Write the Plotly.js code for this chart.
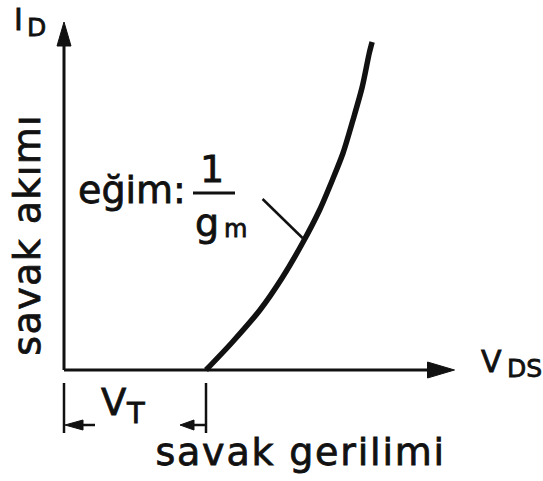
<!DOCTYPE html>
<html>
<head>
<meta charset="utf-8">
<script src="https://cdn.plot.ly/plotly-3.0.1.min.js"></script>
<style>
  html, body { margin: 0; padding: 0; background: #fff; }
  #chart { width: 543px; height: 481px; }
  /* heavier lettering */
  #chart .annotation-text { stroke: #111; stroke-width: 0.8px; }
</style>
</head>
<body>
<div id="chart"></div>
<script>
// Drain current against drain voltage, arbitrary units (threshold V_T = 1)
const vds = [1.00, 1.18, 1.38, 1.54, 1.68, 1.80, 1.89, 1.965, 2.035, 2.10, 2.15, 2.17];
const id  = [0.00, 0.27, 0.60, 0.93, 1.27, 1.60, 1.90, 2.17, 2.50, 2.83, 3.17, 3.28];
const vT = 1.0;

// Axis extents (arrow tips) and the point the slope label points at
const vdsAxisEnd = 2.75;
const idAxisEnd = 3.48;
const slopeMark = [1.68, 1.32];

// Label texts
const yTitle = 'savak akımı';
const xTitle = 'savak gerilimi';
const slopeText = 'eğim:';
const slopeNum = '1';
const slopeDen = 'g';
const slopeDenSub = 'm';
const idSym = ['I', 'D'];
const vdsSym = ['V', 'DS'];
const vtSym = ['V', 'T'];

const INK = '#111';
const FONT = 'DejaVu Sans';
const W = 543, H = 481;
// plot units per pixel on each axis
const ux = 1 / 142, uy = 1 / 100;

function tri(tipX, tipY, dirX, dirY, lenPx, halfPx) {
  // filled arrow head: tip at (tipX, tipY), pointing along (dirX, dirY)
  const bx = tipX - dirX * lenPx * ux, by = tipY - dirY * lenPx * uy;
  const px = -dirY * halfPx * ux, py = dirX * halfPx * uy;
  return {
    type: 'path', xref: 'x', yref: 'y',
    path: `M${tipX},${tipY} L${bx + px},${by + py} L${bx - px},${by - py} Z`,
    fillcolor: INK, line: { color: INK, width: 1 }
  };
}
function seg(x0, y0, x1, y1, w) {
  return { type: 'line', xref: 'x', yref: 'y', x0, y0, x1, y1, line: { color: INK, width: w } };
}
function P(px, py) { return { x: px / W, y: 1 - py / H }; }
function label(text, px, py, size, extra) {
  return Object.assign({
    text, xref: 'paper', yref: 'paper', ...P(px, py), showarrow: false,
    xanchor: 'center', yanchor: 'middle',
    font: { family: FONT, size, color: INK }
  }, extra || {});
}

const trace = {
  x: vds, y: id, type: 'scatter', mode: 'lines',
  line: { color: INK, width: 5.5, shape: 'spline', smoothing: 0.8 },
  hoverinfo: 'skip'
};

const shapes = [
  // axes
  seg(0, 0, 0, idAxisEnd - 22 * uy, 3),
  tri(0, idAxisEnd, 0, 1, 24, 7),
  seg(0, 0, vdsAxisEnd - 25 * ux, 0, 3),
  tri(vdsAxisEnd, 0, 1, 0, 27, 8),
  // threshold dimension
  seg(0, -0.13, 0, -0.63, 2.5),
  seg(vT, -0.13, vT, -0.63, 2.5),
  tri(0 + 1 * ux, -0.55, -1, 0, 18, 5),
  seg(0 + 18 * ux, -0.55, 0 + 31 * ux, -0.55, 2.5),
  tri(vT - 26 * ux, -0.55, -1, 0, 14, 5),
  seg(vT - 13 * ux, -0.55, vT, -0.55, 2.5),
  // slope leader
  seg(slopeMark[0] - 40 * ux, slopeMark[1] + 39 * uy, slopeMark[0], slopeMark[1], 2.5),
  // fraction bar
  { type: 'line', xref: 'paper', yref: 'paper', x0: 193 / W, x1: 235 / W,
    y0: 1 - 193 / H, y1: 1 - 193 / H, line: { color: INK, width: 3 } }
];

const annotations = [
  label(xTitle, 300, 452, 38),
  label(yTitle, 27, 235, 38, { textangle: -90 }),
  label(slopeText, 76, 190, 38, { xanchor: 'left' }),
  label(slopeNum, 212, 169, 38),
  label(slopeDen, 207, 223, 38),
  label(slopeDenSub, 235, 229, 24),
  label(idSym[0], 18, 19, 30),
  label(idSym[1], 36, 27, 25),
  label(vdsSym[0], 491, 361, 30),
  label(vdsSym[1], 505, 368, 25, { xanchor: 'left' }),
  label(vtSym[0], 113, 402, 37),
  label(vtSym[1], 135, 413, 29)
];

const layout = {
  width: W, height: H,
  margin: { l: 0, r: 0, t: 0, b: 0, pad: 0 },
  paper_bgcolor: '#fff', plot_bgcolor: '#fff',
  showlegend: false,
  xaxis: { range: [-64 * ux, (W - 64) * ux], visible: false, fixedrange: true },
  yaxis: { range: [-(H - 370) * uy, 370 * uy], visible: false, fixedrange: true },
  shapes, annotations
};

Plotly.newPlot('chart', [trace], layout, { staticPlot: true, displayModeBar: false }).then(() => {
  // widen the lettering of the two axis titles
  const spacing = { '0': '1.8px', '1': '1.4px' };
  document.querySelectorAll('.annotation').forEach(g => {
    const s = spacing[g.getAttribute('data-index')];
    if (s) g.querySelectorAll('text').forEach(t => { t.style.letterSpacing = s; });
  });
});
</script>
</body>
</html>
